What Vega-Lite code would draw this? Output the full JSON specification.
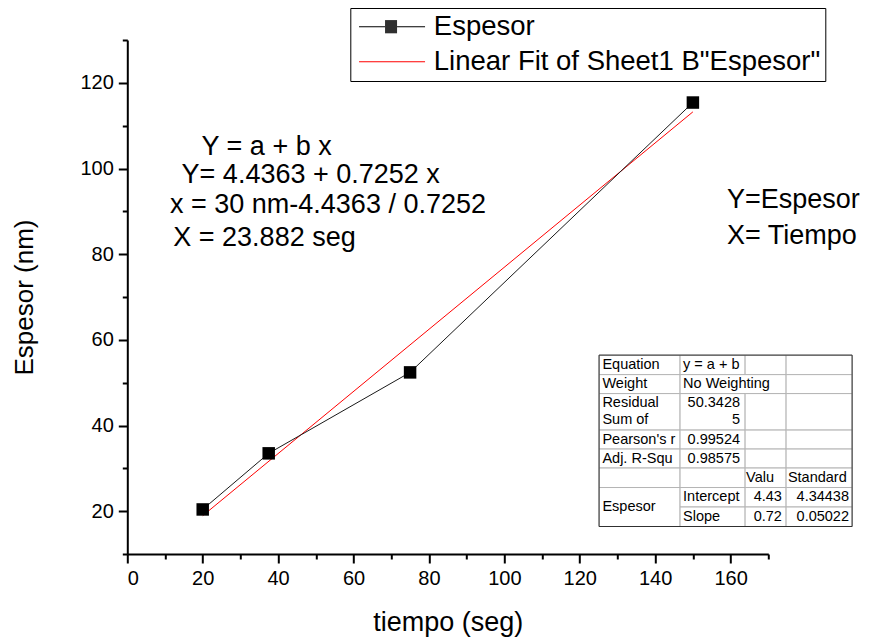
{
  "$schema": "https://vega.github.io/schema/vega-lite/v6.json",
  "width": 641,
  "height": 514,
  "autosize": "none",
  "padding": {"left": 127.3, "top": 40, "right": 103.7, "bottom": 83},
  "background": "white",
  "config": {
    "view": {"stroke": null},
    "font": "Liberation Sans",
    "axis": {
      "grid": false,
      "domainColor": "black",
      "domainWidth": 2,
      "tickColor": "black",
      "tickWidth": 2,
      "labelFont": "Liberation Sans",
      "labelFontSize": 20,
      "labelColor": "black",
      "labelPadding": 5,
      "titleFont": "Liberation Sans",
      "titleFontWeight": "normal",
      "titleColor": "black"
    }
  },
  "datasets": {
    "pts": [
      {"x": 20, "y": 20.4, "s": "Espesor"},
      {"x": 37.5, "y": 33.5, "s": "Espesor"},
      {"x": 75, "y": 52.4, "s": "Espesor"},
      {"x": 150, "y": 115.4, "s": "Espesor"}
    ],
    "fit": [
      {"x": 20, "y": 18.94},
      {"x": 150, "y": 113.22}
    ],
    "notes": [
      {"x": 19.7, "y": 104.96, "t": "Y = a + b x"},
      {"x": 14.4, "y": 98.43, "t": "Y= 4.4363 + 0.7252 x"},
      {"x": 11.33, "y": 91.43, "t": "x = 30 nm-4.4363 / 0.7252"},
      {"x": 12.2, "y": 83.66, "t": "X = 23.882 seg"},
      {"x": 159.05, "y": 92.6, "t": "Y=Espesor"},
      {"x": 159.05, "y": 84.2, "t": "X= Tiempo"}
    ],
    "cells": [
      {"x": 125.12, "x2": 146.6, "y": 56.43, "y2": 51.88},
      {"x": 146.6, "x2": 163.85, "y": 56.43, "y2": 51.88},
      {"x": 163.85, "x2": 174.72, "y": 56.43, "y2": 51.88},
      {"x": 174.72, "x2": 192.23, "y": 56.43, "y2": 51.88},
      {"x": 125.12, "x2": 146.6, "y": 51.88, "y2": 47.45},
      {"x": 146.6, "x2": 174.72, "y": 51.88, "y2": 47.45},
      {"x": 174.72, "x2": 192.23, "y": 51.88, "y2": 47.45},
      {"x": 125.12, "x2": 146.6, "y": 47.45, "y2": 38.93},
      {"x": 146.6, "x2": 163.85, "y": 47.45, "y2": 38.93},
      {"x": 163.85, "x2": 174.72, "y": 47.45, "y2": 38.93},
      {"x": 174.72, "x2": 192.23, "y": 47.45, "y2": 38.93},
      {"x": 125.12, "x2": 146.6, "y": 38.93, "y2": 34.5},
      {"x": 146.6, "x2": 163.85, "y": 38.93, "y2": 34.5},
      {"x": 163.85, "x2": 174.72, "y": 38.93, "y2": 34.5},
      {"x": 174.72, "x2": 192.23, "y": 38.93, "y2": 34.5},
      {"x": 125.12, "x2": 146.6, "y": 34.5, "y2": 30.07},
      {"x": 146.6, "x2": 163.85, "y": 34.5, "y2": 30.07},
      {"x": 163.85, "x2": 174.72, "y": 34.5, "y2": 30.07},
      {"x": 174.72, "x2": 192.23, "y": 34.5, "y2": 30.07},
      {"x": 125.12, "x2": 146.6, "y": 30.07, "y2": 25.52},
      {"x": 146.6, "x2": 163.85, "y": 30.07, "y2": 25.52},
      {"x": 163.85, "x2": 174.72, "y": 30.07, "y2": 25.52},
      {"x": 174.72, "x2": 192.23, "y": 30.07, "y2": 25.52},
      {"x": 125.12, "x2": 146.6, "y": 25.52, "y2": 16.42},
      {"x": 146.6, "x2": 163.85, "y": 25.52, "y2": 20.97},
      {"x": 163.85, "x2": 174.72, "y": 25.52, "y2": 20.97},
      {"x": 174.72, "x2": 192.23, "y": 25.52, "y2": 20.97},
      {"x": 146.6, "x2": 163.85, "y": 20.97, "y2": 16.42},
      {"x": 163.85, "x2": 174.72, "y": 20.97, "y2": 16.42},
      {"x": 174.72, "x2": 192.23, "y": 20.97, "y2": 16.42}
    ],
    "border": [
      {"x": 125.12, "x2": 192.23, "y": 56.43, "y2": 16.42}
    ],
    "tbl": [
      {"x": 126.0, "y": 54.16, "t": "Equation", "a": "l"},
      {"x": 147.4, "y": 54.16, "t": "y = a + b", "a": "l"},
      {"x": 126.0, "y": 49.66, "t": "Weight", "a": "l"},
      {"x": 147.4, "y": 49.66, "t": "No Weighting", "a": "l"},
      {"x": 126.0, "y": 45.23, "t": "Residual", "a": "l"},
      {"x": 126.0, "y": 41.27, "t": "Sum of", "a": "l"},
      {"x": 126.0, "y": 36.72, "t": "Pearson's r", "a": "l"},
      {"x": 126.0, "y": 32.28, "t": "Adj. R-Squ", "a": "l"},
      {"x": 164.1, "y": 27.73, "t": "Valu", "a": "l"},
      {"x": 175.2, "y": 27.73, "t": "Standard", "a": "l"},
      {"x": 147.4, "y": 23.3, "t": "Intercept", "a": "l"},
      {"x": 147.4, "y": 18.63, "t": "Slope", "a": "l"},
      {"x": 126.0, "y": 20.97, "t": "Espesor", "a": "l"},
      {"x": 162.5, "y": 45.23, "t": "50.3428", "a": "r"},
      {"x": 162.5, "y": 41.27, "t": "5", "a": "r"},
      {"x": 162.5, "y": 36.72, "t": "0.99524", "a": "r"},
      {"x": 162.5, "y": 32.28, "t": "0.98575", "a": "r"},
      {"x": 173.6, "y": 23.3, "t": "4.43", "a": "r"},
      {"x": 191.4, "y": 23.3, "t": "4.34438", "a": "r"},
      {"x": 173.6, "y": 18.63, "t": "0.72", "a": "r"},
      {"x": 191.4, "y": 18.63, "t": "0.05022", "a": "r"}
    ]
  },
  "encoding": {
    "x": {
      "field": "x",
      "type": "quantitative",
      "scale": {"domain": [0, 170], "nice": false, "zero": false},
      "axis": {
        "title": "tiempo (seg)",
        "titleFontSize": 27,
        "titlePadding": 21,
        "values": [0, 10, 20, 30, 40, 50, 60, 70, 80, 90, 100, 110, 120, 130, 140, 150, 160, 170],
        "labelExpr": "datum.value % 20 === 0 ? datum.label : ''",
        "tickSize": {"condition": {"test": "datum.value % 20 === 0", "value": 9}, "value": 5}
      }
    },
    "y": {
      "field": "y",
      "type": "quantitative",
      "scale": {"domain": [10, 130], "nice": false, "zero": false},
      "axis": {
        "title": "Espesor (nm)",
        "titleFontSize": 26,
        "titlePadding": 42,
        "values": [10, 20, 30, 40, 50, 60, 70, 80, 90, 100, 110, 120, 130],
        "labelExpr": "datum.value % 20 === 0 ? datum.label : ''",
        "tickSize": {"condition": {"test": "datum.value % 20 === 0", "value": 9}, "value": 5}
      }
    }
  },
  "layer": [
    {
      "data": {"name": "cells"},
      "mark": {"type": "rect", "fill": "white", "stroke": "#b4b4b4", "strokeWidth": 1},
      "encoding": {"x2": {"field": "x2"}, "y2": {"field": "y2"}}
    },
    {
      "data": {"name": "border"},
      "mark": {"type": "rect", "fillOpacity": 0, "stroke": "#303030", "strokeWidth": 1},
      "encoding": {"x2": {"field": "x2"}, "y2": {"field": "y2"}}
    },
    {
      "data": {"name": "tbl"},
      "transform": [{"filter": "datum.a === 'l'"}],
      "mark": {"type": "text", "align": "left", "baseline": "middle", "fontSize": 14.5, "font": "Liberation Sans", "color": "black"},
      "encoding": {"text": {"field": "t"}}
    },
    {
      "data": {"name": "tbl"},
      "transform": [{"filter": "datum.a === 'r'"}],
      "mark": {"type": "text", "align": "right", "baseline": "middle", "fontSize": 14.5, "font": "Liberation Sans", "color": "black"},
      "encoding": {"text": {"field": "t"}}
    },
    {
      "data": {"name": "fit"},
      "mark": {"type": "line", "color": "#ff0000", "strokeWidth": 1},
      "encoding": {}
    },
    {
      "data": {"name": "pts"},
      "mark": {"type": "line", "color": "#1a1a1a", "strokeWidth": 1},
      "encoding": {}
    },
    {
      "data": {"name": "pts"},
      "mark": {"type": "point", "shape": "square", "filled": true, "color": "black", "opacity": 1, "size": 156, "strokeWidth": 0},
      "encoding": {}
    },
    {
      "data": {"name": "notes"},
      "mark": {"type": "text", "align": "left", "baseline": "middle", "fontSize": 27, "font": "Liberation Sans", "color": "black"},
      "encoding": {"text": {"field": "t"}}
    },
    {
      "data": {"name": "pts"},
      "mark": {"type": "point", "filled": false, "opacity": 0, "size": 400, "strokeWidth": 1},
      "encoding": {
        "color": {
          "field": "s",
          "type": "nominal",
          "scale": {"domain": ["Espesor", "Fit"], "range": ["black", "red"]},
          "legend": {
            "title": null,
            "orient": "none",
            "legendX": 223,
            "legendY": -32,
            "strokeColor": "black",
            "fillColor": "white",
            "padding": 5,
            "labelFont": "Liberation Sans",
            "labelFontSize": 27.5,
            "labelColor": "black",
            "labelLimit": 600,
            "labelOffset": 51,
            "rowPadding": 6,
            "symbolOpacity": 1,
            "symbolSize": 400,
            "symbolStrokeWidth": 1,
            "labelExpr": "datum.label === 'Fit' ? 'Linear Fit of Sheet1 B\"Espesor\"' : datum.label"
          }
        },
        "shape": {
          "field": "s",
          "type": "nominal",
          "scale": {
            "domain": ["Espesor", "Fit"],
            "range": [
              "M-1,0H1.6M2.8,0H5.6M1.6,-0.6H2.8M1.6,-0.5H2.8M1.6,-0.4H2.8M1.6,-0.3H2.8M1.6,-0.2H2.8M1.6,-0.1H2.8M1.6,0H2.8M1.6,0.1H2.8M1.6,0.2H2.8M1.6,0.3H2.8M1.6,0.4H2.8M1.6,0.5H2.8M1.6,0.6H2.8",
              "M-1,0H5.6"
            ]
          },
          "legend": {
            "title": null,
            "orient": "none",
            "legendX": 223,
            "legendY": -32
          }
        }
      }
    }
  ]
}
